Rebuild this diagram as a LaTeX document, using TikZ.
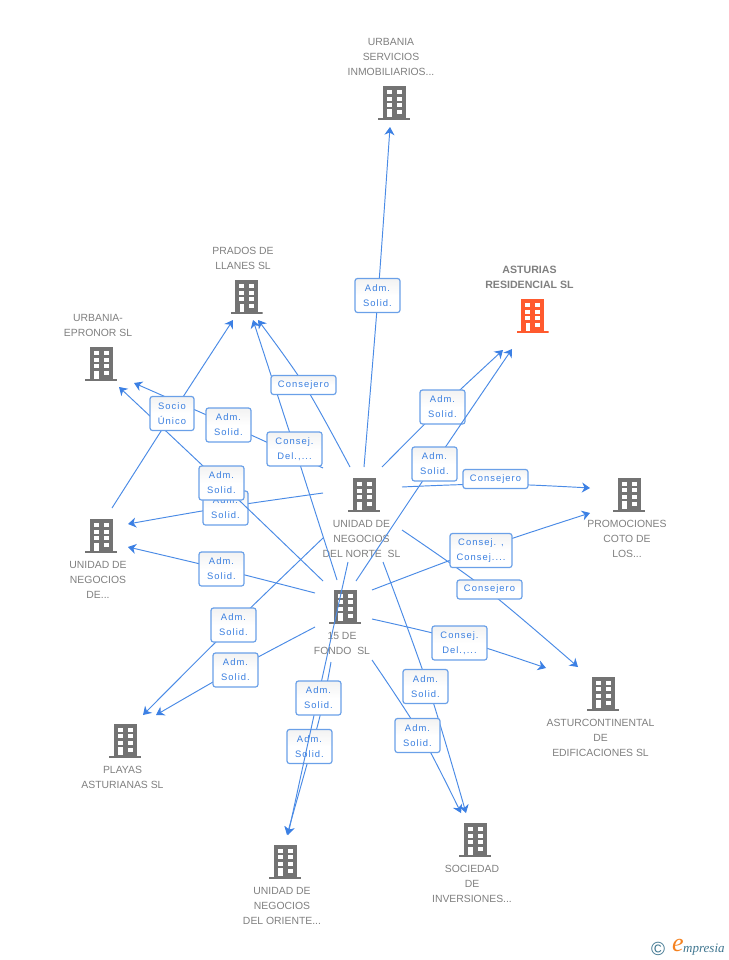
\documentclass[tikz,border=0pt]{standalone}
\usepackage{fontspec}
\setmainfont{Liberation Sans}
\newfontfamily\logofont{Liberation Serif}
\usetikzlibrary{arrows.meta,shadings}
\definecolor{linkblue}{HTML}{4A8BE6}
\definecolor{tipblue}{HTML}{3C80E4}
\definecolor{boxblue}{HTML}{6AA0E8}
\definecolor{labelblue}{HTML}{3A7FE0}
\definecolor{namegray}{HTML}{808080}
\definecolor{iconcol}{HTML}{737373}
\definecolor{hotcol}{HTML}{FF5A2E}
\definecolor{logoblue}{HTML}{3F7690}
\definecolor{logoorange}{HTML}{F58220}
\tikzset{
  bldg/.style={minimum width=32pt,minimum height=34pt,inner sep=0pt,outer sep=0pt,
    path picture={
      \begin{scope}[shift={(path picture bounding box.center)}]
        \fill[#1] (-11.5,-17) rectangle (11.5,15.5);
        \fill[#1] (-16,15) rectangle (16,17);
        \fill[white] (-7.5,-13) rectangle (-2.5,-9);
        \fill[white] (2.5,-13) rectangle (7.5,-9);
        \fill[white] (-7.5,-6.3) rectangle (-2.5,-2.3);
        \fill[white] (2.5,-6.3) rectangle (7.5,-2.3);
        \fill[white] (-7.5,0.3) rectangle (-2.5,4.3);
        \fill[white] (2.5,0.3) rectangle (7.5,4.3);
        \fill[white] (-7,6.5) rectangle (-2.5,14.5);
        \fill[white] (2.5,7) rectangle (7.5,11);
      \end{scope}}},
  bname/.style={align=center,text=namegray,inner sep=0pt,
    font=\fontsize{10.4pt}{15pt}\selectfont},
  bnamehot/.style={bname,font=\fontsize{10.6pt}{15pt}\selectfont\bfseries},
  conn/.style={draw=linkblue,line width=0.95pt,
    -{Stealth[length=8pt,width=10pt,inset=2.5pt,color=tipblue]}},
  linkbox/.style={draw=boxblue,line width=1.2pt,rounded corners=2.5pt,
    top color=black!5,bottom color=white,middle color=white,
    align=center,inner sep=0pt,minimum height=34pt,text=labelblue,
    font=\fontsize{9.4pt}{15pt}\selectfont\addfontfeature{LetterSpace=11}},
  linkone/.style={linkbox,minimum height=19pt}
}
% id, start, via, end, label position, label style, width, label text
\newcommand{\link}[8]{%
  \coordinate (#1s) at (#2);
  \coordinate (#1v) at (#3);
  \coordinate (#1e) at (#4);
  \draw[conn] plot[smooth,tension=0.55] coordinates {(#1s) (#1v) (#1e)};
  \node[#6,minimum width=#7pt] (#1l) at (#5) {#8};
}
\begin{document}
\begin{tikzpicture}[x=1pt,y=-1pt]
\useasboundingbox (0,0) rectangle (728,960);
\fill[white] (0,0) rectangle (728,960);
% companies
\node[bldg=iconcol] (servicios) at (394,103) {};
\node[bname] (servicios-t) at (391,57) {URBANIA\\SERVICIOS\\INMOBILIARIOS...};
\node[bldg=hotcol] (asturias) at (532.5,316) {};
\node[bnamehot] (asturias-t) at (529.5,277) {ASTURIAS\\RESIDENCIAL SL};
\node[bldg=iconcol] (prados) at (246.5,297) {};
\node[bname] (prados-t) at (243,258.5) {PRADOS DE\\LLANES SL};
\node[bldg=iconcol] (epronor) at (101,364) {};
\node[bname] (epronor-t) at (98,325.5) {URBANIA-\\EPRONOR SL};
\node[bldg=iconcol] (negocios) at (101,536) {};
\node[bname] (negocios-t) at (98,580) {UNIDAD DE\\NEGOCIOS\\DE...};
\node[bldg=iconcol] (norte) at (364,495) {};
\node[bname] (norte-t) at (361.5,539) {UNIDAD DE\\NEGOCIOS\\DEL NORTE\ \ SL};
\node[bldg=iconcol] (fondo) at (345,606.5) {};
\node[bname] (fondo-t) at (342,643.5) {15 DE\\FONDO\ \ SL};
\node[bldg=iconcol] (promo) at (629,494.5) {};
\node[bname] (promo-t) at (627,539) {PROMOCIONES\\COTO DE\\LOS...};
\node[bldg=iconcol] (conti) at (603,693.5) {};
\node[bname] (conti-t) at (600.5,738) {ASTURCONTINENTAL\\DE\\EDIFICACIONES SL};
\node[bldg=iconcol] (playas) at (125,740.5) {};
\node[bname] (playas-t) at (122.5,777.5) {PLAYAS\\ASTURIANAS SL};
\node[bldg=iconcol] (oriente) at (285,861.5) {};
\node[bname] (oriente-t) at (282,906) {UNIDAD DE\\NEGOCIOS\\DEL ORIENTE...};
\node[bldg=iconcol] (sociedad) at (475,840) {};
\node[bname] (sociedad-t) at (472,884) {SOCIEDAD\\DE\\INVERSIONES...};
% connectors with their labels
\link{f}{402,530}{487,590}{578,667}{489.5,589.5}{linkone}{65}{Consejero}
\link{a}{364,467}{378,296}{390,127}{377.5,295.5}{linkbox}{45}{Adm.\\Solid.}
\link{b}{382,467}{442,407}{503,350}{442.5,407}{linkbox}{45}{Adm.\\Solid.}
\link{c}{356,581}{434,464}{512,349}{434.5,464}{linkbox}{45}{Adm.\\Solid.}
\link{d}{402,487}{495,484}{590,488}{495.5,479}{linkone}{65}{Consejero}
\link{e}{372,590}{481,549}{590,513}{481,550.5}{linkbox}{62}{Consej. ,\\Consej....}
\link{g}{372,619}{460,640}{546,668}{459.5,643}{linkbox}{55}{Consej.\\Del.,...}
\link{h}{383,562}{428,686}{466,813}{425.5,686.5}{linkbox}{45}{Adm.\\Solid.}
\link{i}{372,660}{421,735}{461,813}{417.5,735.5}{linkbox}{45}{Adm.\\Solid.}
\link{k}{331,662}{319,720}{287,835}{309.5,746.5}{linkbox}{45}{Adm.\\Solid.}
\link{j}{348,562}{318,697}{288,835}{318.5,698}{linkbox}{45}{Adm.\\Solid.}
\link{l}{323,538}{233,625}{143,715}{233.5,625}{linkbox}{45}{Adm.\\Solid.}
\link{m}{315,627}{236,669}{156,715}{235.5,670}{linkbox}{45}{Adm.\\Solid.}
\link{n}{315,593}{221,569}{128,547}{221.5,569}{linkbox}{45}{Adm.\\Solid.}
\link{o}{323,493}{226,507}{128,524}{225.5,508}{linkbox}{45}{Adm.\\Solid.}
\link{p}{323,581}{221,483}{119,387}{221.5,483}{linkbox}{45}{Adm.\\Solid.}
\link{r}{323,468}{229,425}{134,383}{228.5,425}{linkbox}{45}{Adm.\\Solid.}
\link{q}{337,580}{295,449}{253,320}{294.5,449}{linkbox}{55}{Consej.\\Del.,...}
\link{t}{350,467}{305,386}{258,320}{303.5,385}{linkone}{65}{Consejero}
\link{s}{112,508}{172,414}{233,320}{172,413.5}{linkbox}{44}{Socio\\Único}
% logo
\node[inner sep=0pt,text=logoblue,font=\fontsize{19pt}{19pt}\selectfont] (logoc) at (658,949) {©};
\node[inner sep=0pt,text=logoorange,font=\logofont\itshape\fontsize{26pt}{26pt}\selectfont] (logoe) at (678,945) {e};
\node[inner sep=0pt,anchor=west,text=logoblue,font=\logofont\itshape\fontsize{13pt}{13pt}\selectfont] (logot) at (683,950) {mpresia};
\end{tikzpicture}
\end{document}
